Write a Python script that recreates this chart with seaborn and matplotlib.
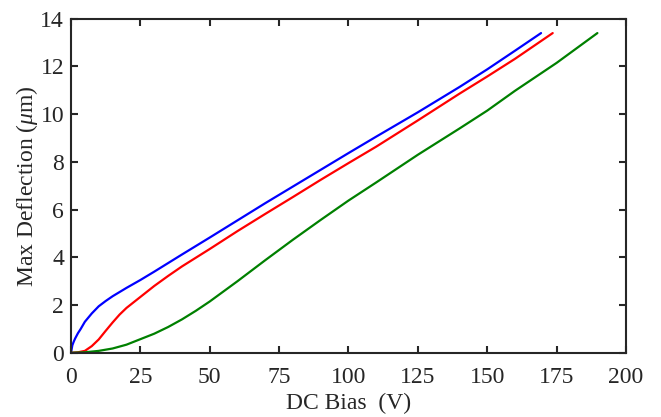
import pandas as pd
import matplotlib
matplotlib.use("Agg")
import matplotlib.pyplot as plt
import seaborn as sns

# curve data (DC bias in V, max deflection in um)
blue_x = [0, 0.5, 1, 1.5, 2.5, 3.5, 5, 7.5, 10, 12.5, 15, 20, 25, 30, 40, 50,
          60, 70, 80, 90, 100, 110, 125, 140, 150, 160, 169.4]
blue_y = [0, 0.32, 0.47, 0.6, 0.82, 1.0, 1.3, 1.65, 1.95, 2.17, 2.37, 2.72,
          3.05, 3.4, 4.12, 4.83, 5.55, 6.27, 6.97, 7.67, 8.37, 9.06, 10.08,
          11.14, 11.88, 12.66, 13.4]

red_x = [0, 2.5, 5, 7.5, 10, 12.5, 15, 17.5, 20, 25, 30, 35, 40, 50, 60, 70,
         80, 90, 100, 110, 125, 140, 150, 160, 173.6]
red_y = [0, 0.02, 0.08, 0.28, 0.56, 0.92, 1.27, 1.6, 1.88, 2.34, 2.8, 3.22,
         3.62, 4.35, 5.1, 5.82, 6.53, 7.25, 7.95, 8.64, 9.74, 10.86, 11.58,
         12.32, 13.4]

green_x = [0, 5, 10, 15, 20, 25, 30, 35, 40, 45, 50, 60, 70, 80, 90, 100, 110,
           125, 140, 150, 160, 175, 189.7]
green_y = [0, 0.02, 0.08, 0.18, 0.34, 0.57, 0.8, 1.08, 1.4, 1.76, 2.15, 3.0,
           3.88, 4.74, 5.57, 6.38, 7.14, 8.3, 9.4, 10.15, 10.98, 12.15, 13.4]

x_ticks = [0, 25, 50, 75, 100, 125, 150, 175, 200]
y_ticks = [0, 2, 4, 6, 8, 10, 12, 14]

sns.set_theme(style="ticks")
plt.rcParams["font.family"] = ["Liberation Serif", "DejaVu Serif"]
plt.rcParams["mathtext.fontset"] = "custom"
plt.rcParams["mathtext.it"] = "Liberation Serif:italic"
plt.rcParams["mathtext.rm"] = "Liberation Serif"

fig = plt.figure(figsize=(6.61, 4.17), dpi=100)
ax = fig.add_axes([0.1074, 0.154, 0.8396, 0.801])

curves = [(blue_x, blue_y, (0, 0, 1)),
          (red_x, red_y, (1, 0, 0)),
          (green_x, green_y, (0, 0.5, 0))]
for xs, ys, col in curves:
    df = pd.DataFrame({"x": xs, "y": ys})
    sns.lineplot(data=df, x="x", y="y", color=col, linewidth=1.6, ax=ax,
                 sort=False, estimator=None)

ax.set_xlim(0, 200)
ax.set_ylim(0, 14)
ax.set_xticks(x_ticks)
ax.set_yticks(y_ticks)
ax.set_xlabel("DC Bias  (V)", fontsize=17, labelpad=4, color="#262626")
ax.set_ylabel(r"Max Deflection ($\mu$m)", fontsize=17, labelpad=0, color="#262626")

for side in ["top", "right", "bottom", "left"]:
    ax.spines[side].set_visible(True)
    ax.spines[side].set_color("#262626")
    ax.spines[side].set_linewidth(1.5)
ax.tick_params(direction="in", length=5, width=1.5, colors="#262626",
               labelsize=17, top=True, right=True)
ax.tick_params(axis="x", pad=10)
ax.tick_params(axis="y", pad=5)

fig.savefig("out.png", dpi=100)
